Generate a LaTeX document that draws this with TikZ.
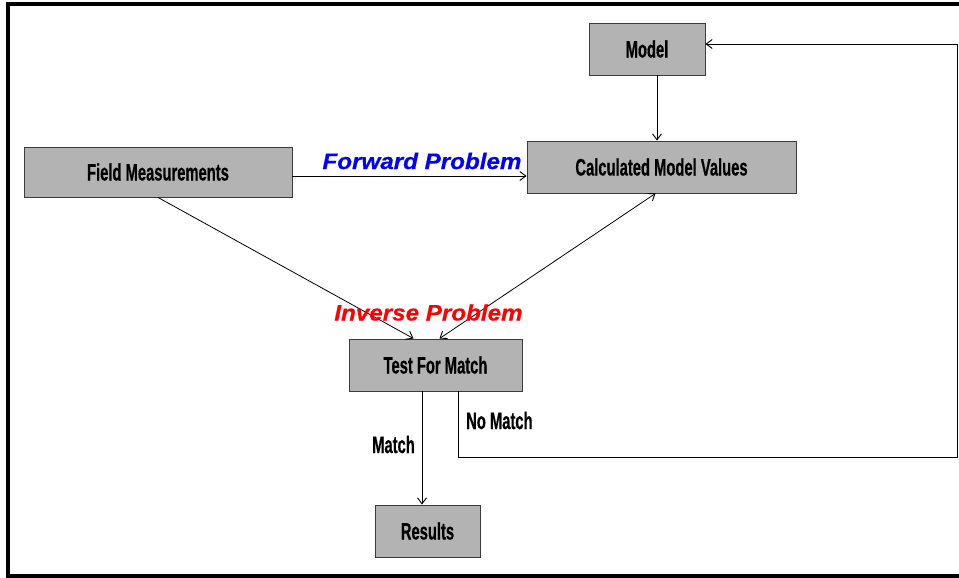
\documentclass[tikz,border=0pt]{standalone}
\usepackage{fontspec}
\setmainfont{Liberation Sans}
\newfontfamily\boxfont[FakeStretch=0.62,FakeBold=0.5]{Liberation Sans}
\newfontfamily\probfont[FakeStretch=1.08,FakeBold=0.6]{Liberation Sans}
\usetikzlibrary{arrows.meta}
\definecolor{boxgray}{RGB}{179,179,179}
\definecolor{edgegray}{RGB}{60,60,60}
\tikzset{
  stagebox/.style={draw=edgegray, line width=0.9pt, fill=boxgray, inner sep=0pt,
    font=\boxfont\bfseries\fontsize{23.8}{25}\selectfont},
  link/.style={line width=0.8pt, draw=black},
  tip/.style={-{Straight Barb[length=6pt,width=9pt,line width=0.9pt]}},
  bothtip/.style={{Straight Barb[length=6pt,width=9pt,line width=0.9pt]}-{Straight Barb[length=6pt,width=9pt,line width=0.9pt]}},
  caselabel/.style={inner sep=0pt, anchor=base west, font=\boxfont\bfseries\fontsize{23.8}{25}\selectfont},
  problabel/.style={inner sep=0pt, anchor=base, font=\probfont\bfseries\itshape\fontsize{22.4}{24}\selectfont}
}
\begin{document}
\begin{tikzpicture}[x=1pt, y=-1pt]
  \useasboundingbox (0,0) rectangle (959,578);
  % outer frame, open on the right
  \draw[line width=3.5pt, line cap=rect] (959,4) -- (8,4) -- (8,576) -- (959,576);

  % stages
  \node[stagebox, minimum width=116pt, minimum height=52pt] (model) at (647,49) {Model};
  \node[stagebox, minimum width=269pt, minimum height=52pt] (calc) at (661.5,167) {Calculated Model Values};
  \node[stagebox, minimum width=268pt, minimum height=50pt] (field) at (158,172) {Field Measurements};
  \node[stagebox, minimum width=173pt, minimum height=52pt] (test) at (435.5,365) {Test For Match};
  \node[stagebox, minimum width=105pt, minimum height=52pt] (results) at (427.5,531) {Results};

  % connectors
  \draw[link, tip] ([xshift=10pt]model.south) -- ([xshift=-4.5pt]calc.north);
  \coordinate (fw) at ([yshift=-4pt]field.east);
  \draw[link, tip] (fw) -- (fw -| calc.west);
  \draw[link, tip] (field.south) -- ([xshift=-22pt]test.north);
  \draw[link, bothtip] ([xshift=-6pt]calc.south) -- ([xshift=4pt]test.north);
  \draw[link, tip] ([xshift=-13.5pt]test.south) -- ([xshift=-5.5pt]results.north);

  % feedback loop back to the model
  \coordinate (nm) at ([xshift=23pt]test.south);
  \coordinate (loopcorner) at (957,457);
  \coordinate (modelin) at ([yshift=5pt]model.east);
  \draw[link, tip] (nm) -- (nm |- loopcorner) -- (loopcorner)
    -- (loopcorner |- modelin) -- (modelin);

  % labels
  \node[problabel, text=blue] (fwdlabel) at (422,169) {Forward Problem};
  \node[problabel, text=red] (invlabel) at (428.5,320.5) {Inverse Problem};
  \node[caselabel] (matchlabel) at (372,453) {Match};
  \node[caselabel] (nomatchlabel) at (466,429) {No Match};
\end{tikzpicture}
\end{document}
